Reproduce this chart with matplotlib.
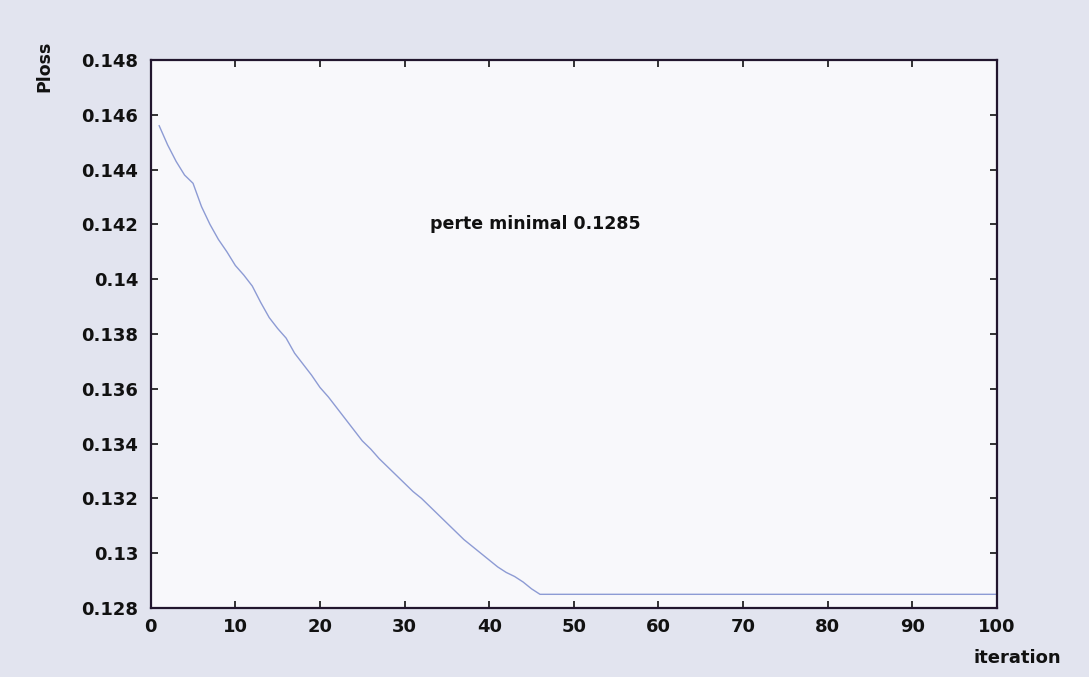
import numpy as np
import matplotlib.pyplot as plt
from matplotlib.ticker import FuncFormatter

plt.rcParams['font.family'] = ['DejaVu Sans']
plt.rcParams['font.weight'] = 'bold'

# loss per iteration (converges at iteration 46, then stays flat)
iterations = np.arange(1, 101)
ploss = [
    0.14560, 0.14490, 0.14430, 0.14380, 0.14350, 0.14265, 0.14200, 0.14145, 0.14100, 0.14050,
    0.14015, 0.13975, 0.13915, 0.13860, 0.13820, 0.13785, 0.13730, 0.13690, 0.13650, 0.13605,
    0.13570, 0.13530, 0.13490, 0.13450, 0.13410, 0.13380, 0.13345, 0.13315, 0.13285, 0.13255,
    0.13225, 0.13200, 0.13170, 0.13140, 0.13110, 0.13080, 0.13050, 0.13025, 0.13000, 0.12975,
    0.12950, 0.12930, 0.12915, 0.12895, 0.12870, 0.12850, 0.12850, 0.12850, 0.12850, 0.12850,
    0.12850, 0.12850, 0.12850, 0.12850, 0.12850, 0.12850, 0.12850, 0.12850, 0.12850, 0.12850,
    0.12850, 0.12850, 0.12850, 0.12850, 0.12850, 0.12850, 0.12850, 0.12850, 0.12850, 0.12850,
    0.12850, 0.12850, 0.12850, 0.12850, 0.12850, 0.12850, 0.12850, 0.12850, 0.12850, 0.12850,
    0.12850, 0.12850, 0.12850, 0.12850, 0.12850, 0.12850, 0.12850, 0.12850, 0.12850, 0.12850,
    0.12850, 0.12850, 0.12850, 0.12850, 0.12850, 0.12850, 0.12850, 0.12850, 0.12850, 0.12850,
]
min_loss = 0.1285
x_ticks = np.arange(0, 101, 10)
y_ticks = [0.128, 0.130, 0.132, 0.134, 0.136, 0.138, 0.140, 0.142, 0.144, 0.146, 0.148]

fig = plt.figure(figsize=(10.89, 6.77), dpi=100, facecolor='#e2e4ef')
ax = fig.add_axes([0.1384, 0.1019, 0.7771, 0.8095])
ax.set_facecolor('#f8f8fb')

ax.plot(iterations, ploss, color='#8d9bd4', linewidth=1.0)
ax.text(33, 0.142, 'perte minimal %g' % min_loss, fontsize=12.5, fontweight='bold',
        va='center', ha='left', color='#111111')

ax.set_xlim(0, 100)
ax.set_ylim(0.128, 0.148)
ax.set_xticks(x_ticks)
ax.set_yticks(y_ticks)
ax.yaxis.set_major_formatter(FuncFormatter(lambda v, p: '%g' % round(v, 3)))
ax.tick_params(direction='in', top=True, right=True, length=5, width=1.2,
               labelsize=13, colors='#111111')
ax.tick_params(axis='x', pad=7)
ax.tick_params(axis='y', pad=9)
for lbl in ax.get_xticklabels() + ax.get_yticklabels():
    lbl.set_fontweight('bold')
for s in ax.spines.values():
    s.set_linewidth(1.6)
    s.set_color('#22162e')

fig.text(0.041, 0.902, 'Ploss', rotation=90, fontsize=12.5, fontweight='bold',
         ha='center', va='center', color='#111111')
fig.text(0.934, 0.028, 'iteration', fontsize=13, fontweight='bold',
         ha='center', va='center', color='#111111')

fig.savefig('out.png', dpi=100, facecolor=fig.get_facecolor())
